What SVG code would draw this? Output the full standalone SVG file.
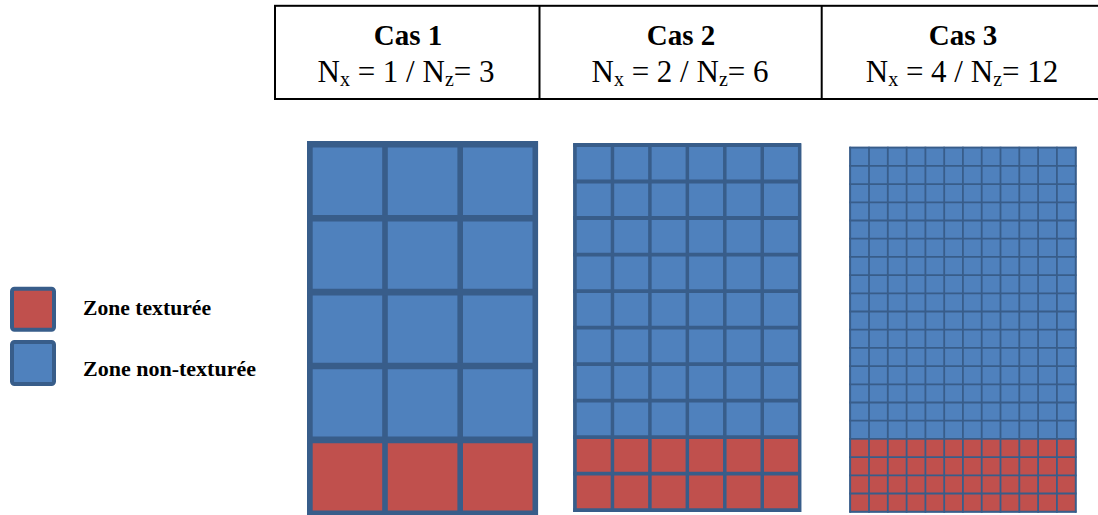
<svg xmlns="http://www.w3.org/2000/svg" width="1098" height="515" viewBox="0 0 1098 515">
  <style>
    .tbl { fill: none; stroke: #000; stroke-width: 2; }
    .serif { font-family: 'Times New Roman', Times, 'Liberation Serif', Tinos, 'Nimbus Roman', 'Nimbus Roman No9 L', FreeSerif, 'Noto Serif', 'DejaVu Serif', Georgia, serif; }
    .cas { font-weight: bold; font-size: 29px; text-anchor: middle; fill: #000; }
    .nn { font-size: 31px; text-anchor: middle; fill: #000; }
    .sub { font-size: 20px; }
    .frame { fill: #385D8A; }
    .blue { fill: #4F81BD; }
    .red { fill: #C0504D; }
    .ln { fill: none; stroke: #385D8A; }
    .leg { font-weight: bold; font-size: 20.5px; fill: #000; }
    .legbox { stroke: #385D8A; stroke-width: 4; }
  </style>

  <!-- Header table -->
  <g id="table">
    <rect class="tbl" x="275" y="5.8" width="830" height="93.2"/>
    <line class="tbl" x1="539.5" y1="5.8" x2="539.5" y2="99"/>
    <line class="tbl" x1="821.7" y1="5.8" x2="821.7" y2="99"/>
  </g>
  <g id="head-cas1">
    <text class="serif cas" x="408" y="45">Cas 1</text>
    <text class="serif nn" x="406" y="82">N<tspan class="sub" dy="4">x</tspan><tspan dy="-4"> = 1 / N</tspan><tspan class="sub" dy="4">z</tspan><tspan dy="-4">= 3</tspan></text>
  </g>
  <g id="head-cas2">
    <text class="serif cas" x="681" y="45">Cas 2</text>
    <text class="serif nn" x="680" y="82">N<tspan class="sub" dy="4">x</tspan><tspan dy="-4"> = 2 / N</tspan><tspan class="sub" dy="4">z</tspan><tspan dy="-4">= 6</tspan></text>
  </g>
  <g id="head-cas3">
    <text class="serif cas" x="963" y="45">Cas 3</text>
    <text class="serif nn" x="962" y="82">N<tspan class="sub" dy="4">x</tspan><tspan dy="-4"> = 4 / N</tspan><tspan class="sub" dy="4">z</tspan><tspan dy="-4">= 12</tspan></text>
  </g>

  <!-- Grid 1 -->
  <g id="grid-cas1">
    <rect class="frame" x="307" y="141" width="231" height="376" rx="3"/>
    <rect class="blue" x="310" y="144" width="225" height="296"/>
    <rect class="red" x="310" y="440" width="225" height="75"/>
    <path class="ln" stroke-width="5.6" d="M309.9 141V517M385 141V517M460.2 141V517M535.3 141V517"/>
    <path class="ln" stroke-width="6.6" d="M307 144.3H538M307 218.2H538M307 292.1H538M307 366H538M307 439.9H538M307 513.8H538"/>
  </g>

  <!-- Grid 2 -->
  <g id="grid-cas2">
    <rect class="frame" x="573.3" y="143.3" width="227.7" height="368.7"/>
    <rect class="blue" x="575" y="145" width="224.7" height="292.2"/>
    <rect class="red" x="575" y="437.2" width="224.7" height="73"/>
    <path class="ln" stroke-width="3.5" d="M575 143.3V512M612.45 143.3V512M649.9 143.3V512M687.35 143.3V512M724.8 143.3V512M762.25 143.3V512M799.7 143.3V512"/>
    <path class="ln" stroke-width="3.8" d="M573.3 145H801M573.3 181.5H801M573.3 218H801M573.3 254.6H801M573.3 291.1H801M573.3 327.6H801M573.3 364.1H801M573.3 400.6H801M573.3 437.2H801M573.3 473.7H801M573.3 510.2H801"/>
  </g>

  <!-- Grid 3 -->
  <g id="grid-cas3">
    <rect class="frame" x="849.3" y="146.8" width="227.2" height="365.9"/>
    <rect class="blue" x="850.2" y="147.7" width="225.5" height="291.2"/>
    <rect class="red" x="850.2" y="438.9" width="225.5" height="72.8"/>
    <path class="ln" stroke-width="1.8" d="M850.2 146.8V512.7M869 146.8V512.7M887.8 146.8V512.7M906.6 146.8V512.7M925.4 146.8V512.7M944.2 146.8V512.7M962.9 146.8V512.7M981.7 146.8V512.7M1000.5 146.8V512.7M1019.3 146.8V512.7M1038.1 146.8V512.7M1056.9 146.8V512.7M1075.7 146.8V512.7"/>
    <path class="ln" stroke-width="1.8" d="M849.3 147.7H1076.5M849.3 165.9H1076.5M849.3 184.1H1076.5M849.3 202.3H1076.5M849.3 220.5H1076.5M849.3 238.7H1076.5M849.3 256.9H1076.5M849.3 275.1H1076.5M849.3 293.3H1076.5M849.3 311.5H1076.5M849.3 329.7H1076.5M849.3 347.9H1076.5M849.3 366.1H1076.5M849.3 384.3H1076.5M849.3 402.5H1076.5M849.3 420.7H1076.5M849.3 438.9H1076.5M849.3 457.1H1076.5M849.3 475.3H1076.5M849.3 493.5H1076.5M849.3 511.7H1076.5"/>
  </g>

  <!-- Legend -->
  <g id="legend-texturee">
    <rect class="red legbox" x="12" y="288.7" width="42" height="41" rx="2.5"/>
    <text class="serif leg" x="83" y="315" textLength="128" lengthAdjust="spacingAndGlyphs">Zone texturée</text>
  </g>
  <g id="legend-non-texturee">
    <rect class="blue legbox" x="12" y="342" width="42" height="42" rx="2.5"/>
    <text class="serif leg" x="83" y="376" textLength="173" lengthAdjust="spacingAndGlyphs">Zone non-texturée</text>
  </g>
  <g id="connectors"/>
</svg>
